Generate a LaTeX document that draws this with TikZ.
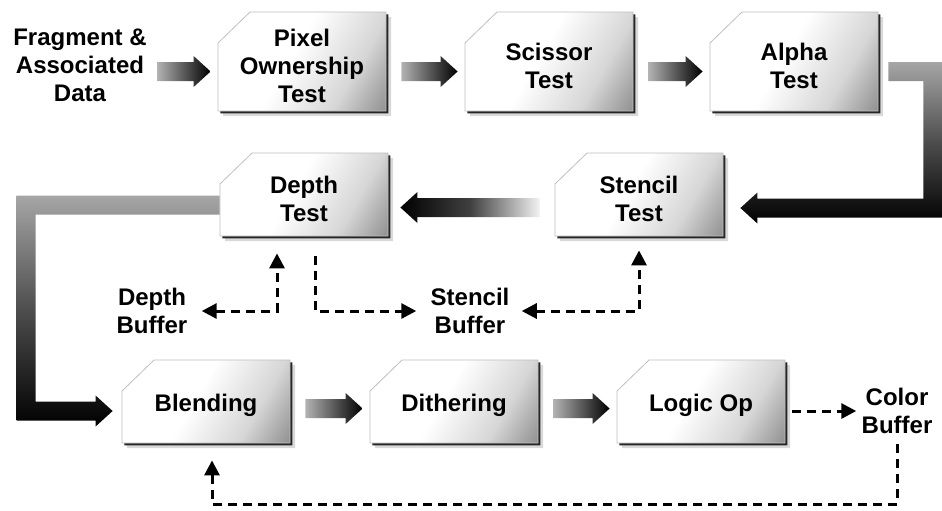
\documentclass[tikz,border=0pt]{standalone}
\usepackage{fontspec}
\setmainfont{Liberation Sans}
\usetikzlibrary{shadows,calc,arrows.meta}

\pgfdeclarehorizontalshading{stagefade}{100bp}{color(0bp)=(white); color(46bp)=(white); color(68bp)=(black!16); color(100bp)=(black!70)}

% short fat arrow, pointing right: [gap] from node, to node, y offset
\newcommand{\fatright}[4][15]{%
  \coordinate (tip) at ($(#3.west)+(-7,#4)$);
  \coordinate (tail) at ($(#2.east |- tip)+(#1,0)$);
  \shade[left color=black!30, right color=black]
    ($(tail)+(0,-9.5)$) -- ($(tip)+(-17,-9.5)$) -- ($(tip)+(-17,-15.5)$) -- (tip)
    -- ($(tip)+(-17,15.5)$) -- ($(tip)+(-17,9.5)$) -- ($(tail)+(0,9.5)$) -- cycle;
}

\tikzset{
  stagebox/.style={draw=black!25, line width=0.4pt, shading=stagefade, shading angle=-30,
    general shadow={shadow xshift=2.5pt, shadow yshift=-2.5pt, fill=black, opacity=0.15},
    general shadow={shadow xshift=1.2pt, shadow yshift=-1.2pt, fill=black!85}},
  stagetext/.style={minimum width=84pt, inner sep=0pt, align=center,
    font=\fontsize{12pt}{14pt}\selectfont\bfseries},
  buffer/.style={inner sep=1pt, align=center, font=\fontsize{12pt}{14pt}\selectfont\bfseries},
  dash line/.style={line width=1.5pt, dash pattern=on 4.5pt off 3pt,
    >={Triangle[length=7.5pt,width=7.5pt]}},
  bigfade/.style={top color=black!35, bottom color=black, middle color=black!70},
}

\begin{document}
\begin{tikzpicture}[x=0.5pt,y=-0.5pt]

	\useasboundingbox[fill=white] (0,0) rectangle (942,510);

	%stages: name / text / centre x / centre y / half height
	\foreach \stagename/\stagelabel/\xpos/\ypos/\halfh in
	  {pix/{Pixel\\Ownership\\Test}/302/61.5/49.5, sci/{Scissor\\Test}/549/61.5/49.5,
	   alp/{Alpha\\Test}/794/61.5/49.5,
	   dep/{Depth\\Test}/304/194.5/41.5, ste/{Stencil\\Test}/639/194.5/41.5,
	   ble/Blending/206/401.5/41.5, dit/Dithering/454/401.5/41.5, log/{Logic Op}/701/401.5/41.5}
   {
		\shadedraw[stagebox] (\xpos-84, \ypos-\halfh+31) -- (\xpos-52, \ypos-\halfh)
		  -- (\xpos+84, \ypos-\halfh) -- (\xpos+84, \ypos+\halfh) -- (\xpos-84, \ypos+\halfh) -- cycle;
		\node[stagetext, minimum height=(\halfh-4)*1pt] (\stagename) at (\xpos, \ypos+4) {\stagelabel};
   }

	%labels
	\node[buffer] (frag) at (80,65) {Fragment \&\\Associated\\Data};
	\node[buffer] (dbuf) at (152,311) {Depth\\Buffer};
	\node[buffer] (sbuf) at (470,311) {Stencil\\Buffer};
	\node[buffer] (cbuf) at (897,411) {Color\\Buffer};

	%short arrows
	\fatright[8]{frag}{pix}{6}
	\foreach \from/\to in {pix/sci, sci/alp}
		\fatright{\from}{\to}{6};
	\foreach \from/\to in {ble/dit, dit/log}
		\fatright{\from}{\to}{3};

	%stencil to depth, fading out to the right
	\coordinate (tip) at ($(dep.east)+(12,9)$);
	\coordinate (tail) at ($(ste.west |- tip)+(-15,0)$);
	\shade[left color=black, right color=black!5, middle color=black!75]
		($(tail)+(0,-9.5)$) -- ($(tip)+(17,-9.5)$) -- ($(tip)+(17,-15.5)$) -- (tip)
		-- ($(tip)+(17,15.5)$) -- ($(tip)+(17,9.5)$) -- ($(tail)+(0,9.5)$) -- cycle;

	%alpha round to stencil
	\coordinate (tail) at ($(alp.east)+(10,6)$);
	\coordinate (tip) at ($(ste.east)+(17,9.5)$);
	\shade[bigfade] ($(tail)+(0,-9.5)$) -| ($(tip)+(202,9.5)$) -- ($(tip)+(17,9.5)$)
		-- ($(tip)+(17,15.5)$) -- (tip) -- ($(tip)+(17,-15.5)$) -- ($(tip)+(17,-9.5)$)
		-| ($(tail)+(35,9.5)$) -- ($(tail)+(0,9.5)$) -- cycle;

	%depth round to blending
	\coordinate (tail) at ($(dep.west)+(0,6.5)$);
	\coordinate (tip) at ($(ble.west)+(-9,5.5)$);
	\shade[bigfade] ($(tail)+(0,-9.5)$) -| ($(tip)+(-96,9.5)$) -- ($(tip)+(-17,9.5)$)
		-- ($(tip)+(-17,15.5)$) -- (tip) -- ($(tip)+(-17,-15.5)$) -- ($(tip)+(-17,-9.5)$)
		-| ($(tail)+(-184,9.5)$) -- ($(tail)+(0,9.5)$) -- cycle;

	%buffers, dashed
	\draw[dash line, <->, shorten <=6pt, shorten >=8.5pt] (dbuf.east) -| ($(dep.south)+(-27,0)$);
	\draw[dash line, ->, shorten <=10pt, shorten >=6pt] ($(dep.south)+(11,0)$) |- (sbuf.west);
	\draw[dash line, <->, shorten <=5pt, shorten >=7pt] (sbuf.east) -| (ste.south);
	\draw[dash line, ->, shorten <=3.5pt, shorten >=1.5pt] (log.east |- cbuf.west) -- (cbuf.west);
	\draw[dash line, ->, shorten <=4pt, shorten >=8.5pt] (cbuf.south) -- ++(0,68) -| ($(ble.south)+(6,0)$);

\end{tikzpicture}
\end{document}
